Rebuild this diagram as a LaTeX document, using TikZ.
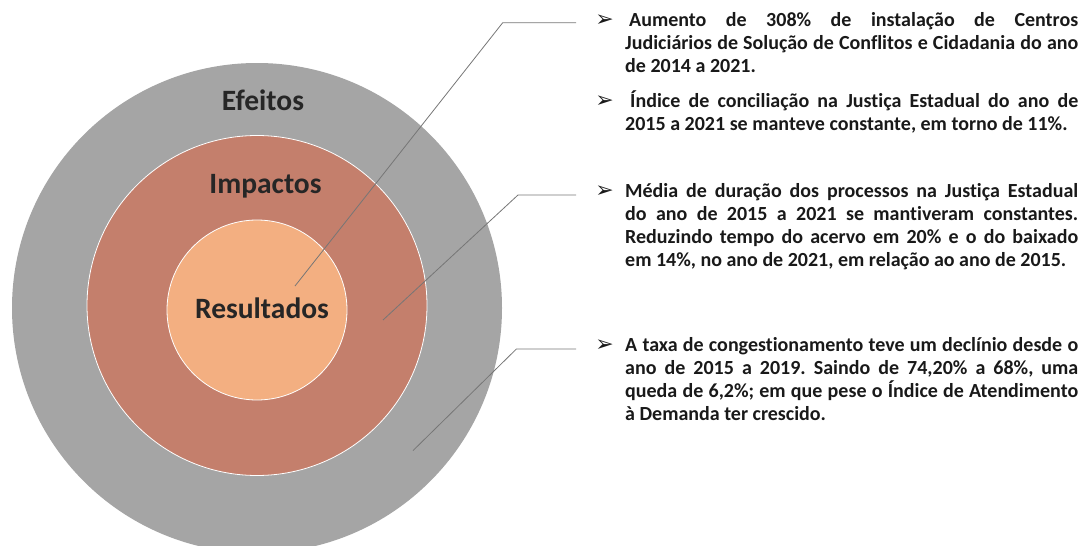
\documentclass[tikz,border=0pt]{standalone}
\usepackage{fontspec}
\setmainfont{Carlito}[Ligatures=NoCommon]
\newfontfamily\dingfont{DejaVu Sans}
\usetikzlibrary{positioning}
\definecolor{efeitosgray}{RGB}{165,165,165}
\definecolor{impactosred}{RGB}{196,127,108}
\definecolor{resultorange}{RGB}{243,175,129}
\definecolor{labeltext}{RGB}{38,38,38}
\definecolor{leadergray}{RGB}{118,118,118}
\hyphenpenalty=10000
\exhyphenpenalty=10000
\frenchspacing

\begin{document}
\begin{tikzpicture}[x=1pt, y=-1pt, ring/.style={circle, inner sep=0pt}, title/.style={anchor=base, inner sep=0pt, text=labeltext, font=\fontsize{29.5}{32}\selectfont\bfseries}, itemtext/.style={anchor=base west, inner sep=0pt, text width=453pt, align=justify, text=black!90, font=\fontsize{20}{23}\selectfont\bfseries}, arrowmark/.style={inner sep=0pt, text=black!90, font=\dingfont\bfseries\fontsize{22}{22}\selectfont}, leader/.style={draw=leadergray, line width=0.8pt}]
	\clip (0,0) rectangle (1088,546);
	\node[ring, fill=efeitosgray, minimum size=490pt] (efeitos) at (257,308) {};
	\node[ring, fill=impactosred, draw=white, line width=0.8pt, minimum size=340pt] (impactos) at (257,305.5) {};
	\node[ring, fill=resultorange, draw=white, line width=0.8pt, minimum size=180pt] (resultados) at (257,310) {};
	\node[title] (l1) at (263,110.5) {Efeitos};
	\node[title] (l2) at (265.5,193) {Impactos};
	\node[title] (l3) at (262,318.5) {Resultados};
	
	\node[itemtext] (t1) at (625,27) {\hspace{4pt}Aumento de 308\% de instalação de Centros\linebreak Judiciários de Solução de Conflitos e Cidadania do ano\linebreak de 2014 a 2021.};
	\node[itemtext] (t2) at (625,107) {\hspace{5pt}Índice de conciliação na Justiça Estadual do ano de\linebreak 2015 a 2021 se manteve constante, em torno de 11\%.};
	\node[itemtext] (t3) at (625,197) {Média de duração dos processos na Justiça Estadual\linebreak do ano de 2015 a 2021 se mantiveram constantes.\linebreak Reduzindo tempo do acervo em 20\% e o do baixado\linebreak em 14\%, no ano de 2021, em relação ao ano de 2015.};
	\node[itemtext] (t4) at (625,351) {A taxa de congestionamento teve um declínio desde o\linebreak ano de 2015 a 2019. Saindo de 74,20\% a 68\%, uma\linebreak queda de 6,2\%; em que pese o Índice de Atendimento\linebreak à Demanda ter crescido.};
	
	\node[arrowmark, left=11pt of t1.base west, anchor=base east] (m1) {➢};
	\node[arrowmark, left=11pt of t2.base west, anchor=base east] (m2) {➢};
	\node[arrowmark, left=11pt of t3.base west, anchor=base east] (m3) {➢};
	\node[arrowmark, left=11pt of t4.base west, anchor=base east] (m4) {➢};
	
	\coordinate (p1) at (295,286);
	\coordinate (k1) at (502.7,22.7);
	\coordinate (p2) at (383,320);
	\coordinate (k2) at (518,195);
	\coordinate (p3) at (413,450.6);
	\coordinate (k3) at (516.4,349);
	
	\draw[leader] (p1) -- (k1) -- ([xshift=-19pt]k1 -| m1.west);
	\draw[leader] (p2) -- (k2) -- ([xshift=-19pt]k2 -| m3.west);
	\draw[leader] (p3) -- (k3) -- ([xshift=-19pt]k3 -| m4.west);
\end{tikzpicture}
\end{document}
